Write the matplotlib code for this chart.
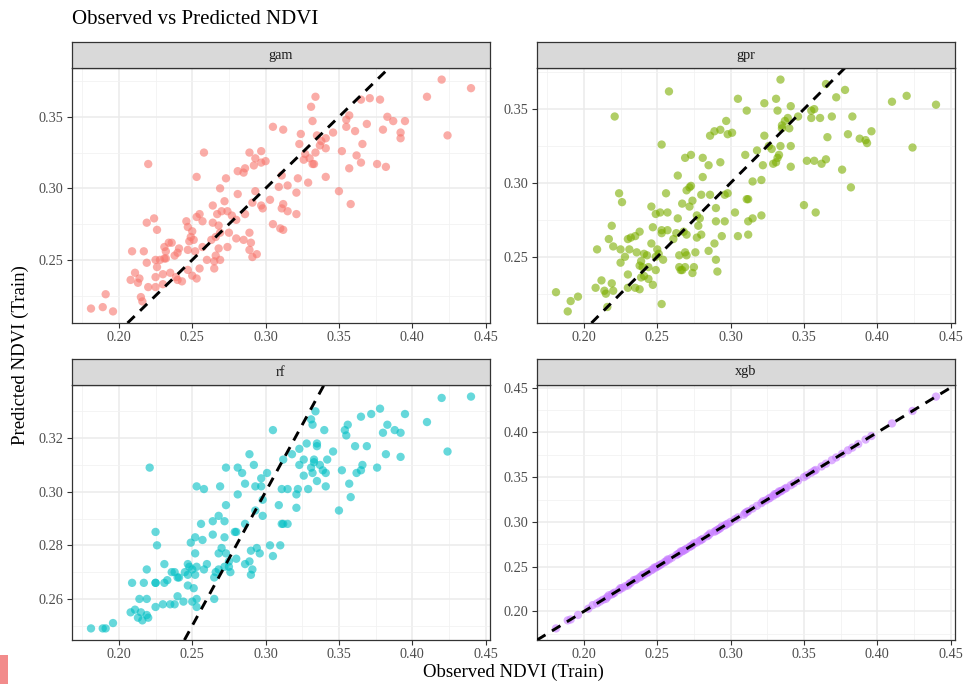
import matplotlib
matplotlib.use("Agg")
import matplotlib.pyplot as plt
from matplotlib.ticker import MultipleLocator, FormatStrFormatter
from matplotlib.patches import Rectangle

plt.rcParams['font.family'] = ['Liberation Serif', 'DejaVu Serif']

# ---------------- data ----------------
gam_obs = [0.181, 0.189, 0.191, 0.196, 0.220, 0.258, 0.253, 0.305, 0.289, 0.297,
           0.293, 0.292, 0.297, 0.300, 0.281, 0.285, 0.286, 0.273, 0.269, 0.281,
           0.293, 0.303, 0.309, 0.264, 0.272, 0.267, 0.270, 0.274, 0.277, 0.280,
           0.255, 0.253, 0.257, 0.246, 0.247, 0.250, 0.249, 0.251, 0.248, 0.264,
           0.268, 0.286, 0.291, 0.297, 0.298, 0.305, 0.310, 0.219, 0.224, 0.226,
           0.236, 0.231, 0.234, 0.241, 0.240, 0.232, 0.238, 0.231, 0.247, 0.252,
           0.257, 0.263, 0.266, 0.269, 0.275, 0.280, 0.274, 0.268, 0.266, 0.265,
           0.269, 0.260, 0.255, 0.265, 0.285, 0.289, 0.290, 0.289, 0.294, 0.291,
           0.209, 0.217, 0.219, 0.225, 0.228, 0.232, 0.226, 0.211, 0.214, 0.208,
           0.213, 0.225, 0.230, 0.235, 0.239, 0.243, 0.240, 0.247, 0.250, 0.253,
           0.220, 0.225, 0.230, 0.215, 0.216,
           0.420, 0.440, 0.410, 0.424, 0.334, 0.331, 0.332, 0.365, 0.371, 0.378,
           0.357, 0.355, 0.355, 0.383, 0.387, 0.395, 0.380, 0.392, 0.392, 0.361,
           0.369, 0.366, 0.346, 0.335, 0.341, 0.338, 0.337, 0.341, 0.324, 0.323,
           0.312, 0.327, 0.326, 0.330, 0.334, 0.333, 0.332, 0.352, 0.362, 0.365,
           0.376, 0.382, 0.357, 0.341, 0.322, 0.329, 0.311, 0.315, 0.321, 0.350,
           0.358, 0.312, 0.311, 0.315, 0.321, 0.312]
gam_pred = [0.216, 0.217, 0.226, 0.214, 0.317, 0.325, 0.308, 0.343, 0.325, 0.326,
            0.321, 0.316, 0.318, 0.319, 0.312, 0.311, 0.314, 0.307, 0.300, 0.296,
            0.298, 0.292, 0.301, 0.288, 0.291, 0.282, 0.284, 0.284, 0.281, 0.278,
            0.282, 0.280, 0.277, 0.277, 0.273, 0.270, 0.266, 0.264, 0.263, 0.276,
            0.274, 0.282, 0.290, 0.288, 0.286, 0.275, 0.272, 0.276, 0.279, 0.271,
            0.262, 0.259, 0.262, 0.258, 0.255, 0.256, 0.253, 0.251, 0.257, 0.256,
            0.259, 0.264, 0.266, 0.269, 0.269, 0.265, 0.259, 0.258, 0.253, 0.249,
            0.250, 0.250, 0.244, 0.244, 0.264, 0.269, 0.262, 0.257, 0.254, 0.252,
            0.256, 0.256, 0.248, 0.250, 0.250, 0.251, 0.245, 0.241, 0.237, 0.236,
            0.234, 0.238, 0.240, 0.241, 0.238, 0.235, 0.236, 0.243, 0.239, 0.237,
            0.231, 0.231, 0.233, 0.224, 0.221,
            0.376, 0.370, 0.364, 0.337, 0.364, 0.357, 0.347, 0.362, 0.363, 0.362,
            0.351, 0.348, 0.343, 0.350, 0.347, 0.347, 0.341, 0.339, 0.335, 0.340,
            0.345, 0.331, 0.339, 0.337, 0.335, 0.333, 0.330, 0.328, 0.338, 0.331,
            0.341, 0.324, 0.320, 0.321, 0.325, 0.317, 0.317, 0.326, 0.323, 0.318,
            0.317, 0.315, 0.314, 0.308, 0.307, 0.304, 0.309, 0.302, 0.297, 0.298,
            0.289, 0.289, 0.286, 0.284, 0.282, 0.271]

gpr_obs = [0.181, 0.191, 0.196, 0.189, 0.221, 0.258, 0.253, 0.305, 0.311, 0.297,
           0.293, 0.289, 0.286, 0.298, 0.301, 0.269, 0.273, 0.281, 0.285, 0.293,
           0.310, 0.264, 0.281, 0.270, 0.273, 0.272, 0.256, 0.224, 0.226, 0.246,
           0.249, 0.252, 0.257, 0.267, 0.274, 0.272, 0.280, 0.286, 0.296, 0.298,
           0.290, 0.303, 0.264, 0.277, 0.279, 0.278, 0.280, 0.277, 0.290, 0.296,
           0.305, 0.294, 0.289, 0.285, 0.290, 0.291, 0.219, 0.217, 0.220, 0.209,
           0.225, 0.230, 0.232, 0.235, 0.238, 0.231, 0.246, 0.247, 0.253, 0.257,
           0.253, 0.261, 0.263, 0.268, 0.270, 0.236, 0.241, 0.243, 0.250, 0.251,
           0.249, 0.254, 0.265, 0.269, 0.270, 0.276, 0.228, 0.225, 0.239, 0.240,
           0.238, 0.244, 0.249, 0.265, 0.267, 0.269, 0.275, 0.274, 0.266, 0.230,
           0.239, 0.244, 0.241, 0.247, 0.212, 0.219, 0.208, 0.214, 0.215, 0.220,
           0.230, 0.235, 0.238, 0.216, 0.253,
           0.334, 0.365, 0.378, 0.372, 0.410, 0.420, 0.440, 0.331, 0.323, 0.341,
           0.332, 0.346, 0.339, 0.337, 0.355, 0.357, 0.355, 0.361, 0.369, 0.383,
           0.335, 0.335, 0.340, 0.323, 0.366, 0.380, 0.388, 0.392, 0.393, 0.396,
           0.424, 0.318, 0.326, 0.334, 0.341, 0.328, 0.333, 0.332, 0.331, 0.329,
           0.322, 0.341, 0.352, 0.357, 0.365, 0.362, 0.376, 0.382, 0.315, 0.321,
           0.312, 0.311, 0.350, 0.358, 0.321, 0.315, 0.312, 0.312]
gpr_pred = [0.226, 0.220, 0.223, 0.213, 0.345, 0.362, 0.326, 0.357, 0.349, 0.342,
            0.336, 0.335, 0.332, 0.333, 0.334, 0.317, 0.319, 0.317, 0.312, 0.314,
            0.319, 0.305, 0.304, 0.295, 0.298, 0.297, 0.293, 0.293, 0.287, 0.284,
            0.279, 0.280, 0.280, 0.286, 0.288, 0.284, 0.292, 0.292, 0.292, 0.293,
            0.283, 0.280, 0.276, 0.278, 0.276, 0.271, 0.265, 0.263, 0.274, 0.274,
            0.264, 0.264, 0.259, 0.254, 0.248, 0.240, 0.271, 0.262, 0.257, 0.255,
            0.255, 0.262, 0.263, 0.264, 0.267, 0.255, 0.259, 0.270, 0.268, 0.268,
            0.266, 0.262, 0.266, 0.267, 0.265, 0.253, 0.252, 0.251, 0.255, 0.252,
            0.250, 0.248, 0.251, 0.253, 0.251, 0.253, 0.250, 0.246, 0.247, 0.243,
            0.244, 0.243, 0.241, 0.243, 0.241, 0.243, 0.243, 0.239, 0.241, 0.238,
            0.236, 0.235, 0.237, 0.231, 0.234, 0.232, 0.229, 0.227, 0.225, 0.227,
            0.229, 0.229, 0.228, 0.216, 0.218,
            0.370, 0.367, 0.363, 0.358, 0.355, 0.359, 0.353, 0.357, 0.354, 0.352,
            0.349, 0.345, 0.344, 0.342, 0.349, 0.350, 0.344, 0.344, 0.345, 0.345,
            0.339, 0.337, 0.337, 0.332, 0.331, 0.333, 0.330, 0.329, 0.327, 0.335,
            0.324, 0.322, 0.325, 0.325, 0.325, 0.323, 0.319, 0.317, 0.314, 0.313,
            0.312, 0.311, 0.315, 0.315, 0.316, 0.313, 0.309, 0.297, 0.301, 0.302,
            0.289, 0.289, 0.285, 0.280, 0.278, 0.276, 0.274, 0.265]

rf_obs = [0.181, 0.189, 0.191, 0.196, 0.221, 0.305, 0.289, 0.292, 0.273, 0.281,
          0.284, 0.286, 0.301, 0.297, 0.293, 0.297, 0.269, 0.253, 0.258, 0.281,
          0.298, 0.309, 0.273, 0.293, 0.298, 0.268, 0.264, 0.272, 0.256, 0.286,
          0.279, 0.280, 0.225, 0.226, 0.249, 0.252, 0.257, 0.264, 0.272, 0.270,
          0.303, 0.310, 0.294, 0.290, 0.296, 0.305, 0.252, 0.268, 0.273, 0.280,
          0.286, 0.289, 0.291, 0.290, 0.275, 0.276, 0.272, 0.268, 0.265, 0.266,
          0.247, 0.248, 0.253, 0.250, 0.258, 0.260, 0.247, 0.252, 0.219, 0.231,
          0.236, 0.238, 0.241, 0.240, 0.233, 0.231, 0.225, 0.225, 0.217, 0.209,
          0.247, 0.251, 0.214, 0.219, 0.240, 0.244, 0.253, 0.265, 0.250, 0.230,
          0.225, 0.235, 0.238, 0.208, 0.211, 0.215, 0.213, 0.216, 0.220, 0.219,
          0.253, 0.245, 0.275,
          0.420, 0.440, 0.378, 0.365, 0.372, 0.395, 0.410, 0.334, 0.331, 0.332,
          0.340, 0.356, 0.354, 0.355, 0.383, 0.380, 0.388, 0.392, 0.361, 0.369,
          0.382, 0.392, 0.424, 0.335, 0.328, 0.323, 0.335, 0.346, 0.318, 0.312,
          0.326, 0.333, 0.333, 0.342, 0.323, 0.331, 0.337, 0.339, 0.341, 0.332,
          0.326, 0.335, 0.341, 0.329, 0.352, 0.362, 0.366, 0.365, 0.376, 0.357,
          0.358, 0.350, 0.322, 0.315, 0.311, 0.321, 0.321, 0.311, 0.315, 0.312]
rf_pred = [0.249, 0.249, 0.249, 0.251, 0.309, 0.323, 0.314, 0.310, 0.309, 0.309,
           0.307, 0.303, 0.307, 0.305, 0.302, 0.302, 0.302, 0.302, 0.301, 0.299,
           0.297, 0.295, 0.295, 0.293, 0.291, 0.291, 0.289, 0.289, 0.288, 0.288,
           0.285, 0.285, 0.285, 0.280, 0.281, 0.283, 0.282, 0.284, 0.283, 0.279,
           0.280, 0.280, 0.279, 0.278, 0.277, 0.276, 0.277, 0.277, 0.277, 0.275,
           0.273, 0.274, 0.271, 0.269, 0.274, 0.270, 0.272, 0.271, 0.268, 0.270,
           0.273, 0.272, 0.272, 0.271, 0.271, 0.273, 0.269, 0.269, 0.271, 0.273,
           0.270, 0.270, 0.268, 0.268, 0.267, 0.266, 0.266, 0.266, 0.266, 0.266,
           0.265, 0.264, 0.260, 0.260, 0.261, 0.259, 0.260, 0.260, 0.259, 0.258,
           0.257, 0.258, 0.258, 0.255, 0.256, 0.255, 0.253, 0.252, 0.253, 0.254,
           0.257, 0.270, 0.272,
           0.335, 0.3355, 0.331, 0.328, 0.329, 0.329, 0.326, 0.330, 0.327, 0.325,
           0.323, 0.325, 0.323, 0.321, 0.325, 0.322, 0.323, 0.322, 0.317, 0.317,
           0.314, 0.313, 0.315, 0.318, 0.318, 0.316, 0.317, 0.315, 0.314, 0.312,
           0.312, 0.312, 0.311, 0.312, 0.310, 0.309, 0.310, 0.308, 0.307, 0.307,
           0.306, 0.304, 0.302, 0.301, 0.308, 0.307, 0.310, 0.308, 0.309, 0.303,
           0.298, 0.293, 0.301, 0.301, 0.301, 0.299, 0.294, 0.288, 0.288, 0.288]

xgb_obs = [0.181, 0.189, 0.191, 0.196, 0.203, 0.206, 0.209, 0.211, 0.213, 0.215,
           0.216, 0.217, 0.219, 0.220, 0.221, 0.224, 0.225, 0.226, 0.228, 0.230,
           0.231, 0.232, 0.234, 0.235, 0.236, 0.238, 0.239, 0.240, 0.241, 0.243,
           0.244, 0.246, 0.247, 0.248, 0.249, 0.250, 0.251, 0.252, 0.253, 0.255,
           0.256, 0.257, 0.258, 0.260, 0.263, 0.264, 0.265, 0.266, 0.267, 0.268,
           0.269, 0.270, 0.272, 0.273, 0.274, 0.275, 0.277, 0.279, 0.280, 0.281,
           0.284, 0.285, 0.286, 0.289, 0.290, 0.291, 0.292, 0.293, 0.294, 0.296,
           0.297, 0.298, 0.300, 0.303, 0.305, 0.309, 0.310, 0.311, 0.312, 0.315,
           0.318, 0.321, 0.322, 0.324, 0.326, 0.327, 0.329, 0.330, 0.331, 0.332,
           0.333, 0.334, 0.335, 0.337, 0.338, 0.341, 0.343, 0.346, 0.350, 0.352,
           0.355, 0.357, 0.358, 0.362, 0.365, 0.369, 0.372, 0.376, 0.380, 0.383,
           0.387, 0.392, 0.396, 0.410, 0.424, 0.440]
xgb_pred = [0.181, 0.190, 0.191, 0.196, 0.203, 0.207, 0.209, 0.211, 0.213, 0.214,
            0.216, 0.218, 0.219, 0.220, 0.221, 0.224, 0.226, 0.226, 0.228, 0.229,
            0.231, 0.232, 0.235, 0.235, 0.236, 0.238, 0.239, 0.241, 0.241, 0.243,
            0.244, 0.246, 0.247, 0.249, 0.249, 0.250, 0.251, 0.252, 0.253, 0.255,
            0.256, 0.258, 0.258, 0.260, 0.263, 0.264, 0.265, 0.267, 0.267, 0.268,
            0.269, 0.270, 0.272, 0.273, 0.274, 0.276, 0.277, 0.279, 0.280, 0.281,
            0.284, 0.285, 0.287, 0.289, 0.290, 0.291, 0.292, 0.293, 0.295, 0.296,
            0.297, 0.298, 0.300, 0.303, 0.305, 0.308, 0.310, 0.311, 0.312, 0.315,
            0.318, 0.321, 0.323, 0.324, 0.326, 0.327, 0.329, 0.331, 0.331, 0.332,
            0.334, 0.334, 0.335, 0.337, 0.338, 0.341, 0.343, 0.346, 0.350, 0.352,
            0.355, 0.357, 0.358, 0.362, 0.365, 0.369, 0.372, 0.376, 0.380, 0.383,
            0.387, 0.392, 0.396, 0.410, 0.424, 0.440]

model_names = ["gam", "gpr", "rf", "xgb"]
model_colors = ["#F8766D", "#7CAE00", "#00BFC4", "#C77CFF"]
y_steps = [0.05, 0.05, 0.02, 0.05]

title_text = "Observed vs Predicted NDVI"
xlabel_text = "Observed NDVI (Train)"
ylabel_text = "Predicted NDVI (Train)"

# ---------------- figure ----------------
W, H = 964, 684
fig = plt.figure(figsize=(W / 100, H / 100), dpi=100)
fig.patch.set_facecolor("white")


def frect(x0, y0, x1, y1):
    return [x0 / W, 1 - y1 / H, (x1 - x0) / W, (y1 - y0) / H]


boxes = [(72, 68, 490, 323), (537, 68, 955, 323),
         (72, 385, 490, 640), (537, 385, 955, 640)]
strip_h = 26

obs_sets = [gam_obs, gpr_obs, rf_obs, xgb_obs]
pred_sets = [gam_pred, gpr_pred, rf_pred, xgb_pred]

all_x = [v for s in obs_sets for v in s]
xlo, xhi = min(all_x), max(all_x)
xpad = 0.05 * (xhi - xlo)

for name, col, step, obs, pred, box in zip(model_names, model_colors, y_steps,
                                          obs_sets, pred_sets, boxes):
    x0, y0, x1, y1 = box
    ax = fig.add_axes(frect(x0, y0, x1, y1))
    ax.set_facecolor("white")
    ax.set_axisbelow(True)
    ax.scatter(obs, pred, s=36, color=col, alpha=0.6, edgecolors="none", zorder=2)
    ax.axline((0.2, 0.2), slope=1, color="black", lw=2.1,
              linestyle=(0, (3.4, 2.6)), zorder=3)
    ax.set_xlim(xlo - xpad, xhi + xpad)
    ylo, yhi = min(pred), max(pred)
    ypad = 0.05 * (yhi - ylo)
    ax.set_ylim(ylo - ypad, yhi + ypad)
    ax.xaxis.set_major_locator(MultipleLocator(0.05))
    ax.xaxis.set_minor_locator(MultipleLocator(0.025))
    ax.yaxis.set_major_locator(MultipleLocator(step))
    ax.yaxis.set_minor_locator(MultipleLocator(step / 2))
    ax.xaxis.set_major_formatter(FormatStrFormatter("%.2f"))
    ax.yaxis.set_major_formatter(FormatStrFormatter("%.2f"))
    ax.grid(which="major", color="#EBEBEB", lw=1.1)
    ax.grid(which="minor", color="#F2F2F2", lw=0.6)
    ax.tick_params(which="major", length=3.5, width=0.8, color="#333333",
                   labelcolor="#4D4D4D", labelsize=10.3, pad=2.5)
    ax.tick_params(which="minor", length=0)
    for sp in ax.spines.values():
        sp.set_color("#333333")
        sp.set_linewidth(0.9)

    sax = fig.add_axes(frect(x0, y0 - strip_h, x1, y0))
    sax.set_facecolor("#D9D9D9")
    sax.set_xticks([])
    sax.set_yticks([])
    for sp in sax.spines.values():
        sp.set_color("#333333")
        sp.set_linewidth(0.9)
    sax.text(0.5, 0.5, name, ha="center", va="center", fontsize=10.3,
             color="#1A1A1A", transform=sax.transAxes)

fig.text(72 / W, 1 - 20 / H, title_text, ha="left", va="center",
         fontsize=15, color="black")
fig.text(513 / W, 1 - 672 / H, xlabel_text, ha="center", va="center",
         fontsize=13.5, color="black")
fig.text(20 / W, 1 - 355 / H, ylabel_text, ha="center", va="center",
         rotation=90, fontsize=13.5, color="black")

# small coloured mark at the bottom-left edge of the screenshot
fig.patches.append(Rectangle((0, 0), 8 / W, 29 / H, transform=fig.transFigure,
                             facecolor="#F28B8B", edgecolor="none"))

fig.savefig("out.png", dpi=100, facecolor="white")
